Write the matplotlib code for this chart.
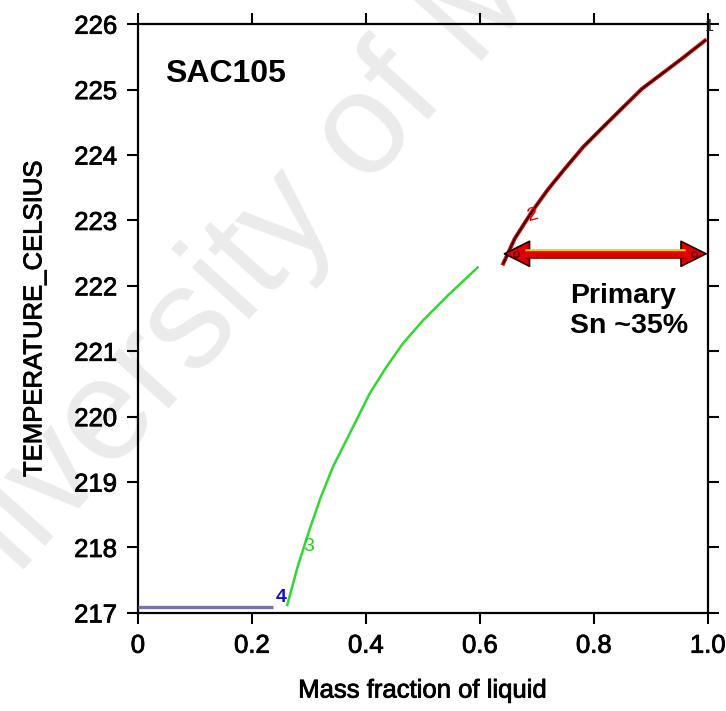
import numpy as np
import matplotlib
matplotlib.use("Agg")
import matplotlib.pyplot as plt
import matplotlib.patheffects as pe

plt.rcParams["font.family"] = ["Liberation Sans", "DejaVu Sans"]

# solidification path segments (mass fraction of liquid vs temperature)
eut_frac = [0.0, 0.237]
eut_temp = [217.09, 217.09]

sec_frac = [0.262, 0.280, 0.299, 0.320, 0.342, 0.372, 0.407, 0.436, 0.465, 0.500, 0.547, 0.596]
sec_temp = [217.12, 217.70, 218.22, 218.75, 219.23, 219.75, 220.36, 220.76, 221.12, 221.47, 221.88, 222.28]

pri_frac = [0.641, 0.661, 0.691, 0.720, 0.749, 0.781, 0.813, 0.849, 0.884, 0.919, 0.954, 0.995]
pri_temp = [222.34, 222.72, 223.13, 223.48, 223.79, 224.12, 224.40, 224.71, 225.01, 225.24, 225.47, 225.75]

# primary Sn range arrow
arrow_temp = 222.49
arrow_from = 0.64
arrow_to = 1.0

x_ticks = [0.0, 0.2, 0.4, 0.6, 0.8, 1.0]
x_ticklabels = ["0", "0.2", "0.4", "0.6", "0.8", "1.0"]
y_ticks = [217, 218, 219, 220, 221, 222, 223, 224, 225, 226]

heavy = [pe.withStroke(linewidth=0.6, foreground="black")]

fig = plt.figure(figsize=(7.26, 7.11), dpi=100)
ax = fig.add_axes([0.190, 0.138, 0.785, 0.828])
ax.patch.set_alpha(0)

# faint repository watermark behind the plot
fig.text(0.445, 0.745, "University of Malaya", fontsize=104, color="#ebebeb",
         rotation=48, rotation_mode="anchor", ha="center", va="center", zorder=-1)

ax.plot(eut_frac, eut_temp, color="#7474a8", lw=2.4, solid_capstyle="butt", zorder=3)
ax.plot(sec_frac, sec_temp, color="#33d633", lw=1.8, zorder=3)
ax.plot(pri_frac, pri_temp, color="#e00000", lw=2.8, zorder=3)
ax.plot(pri_frac, pri_temp, color="#1a0000", lw=1.2, zorder=4)

# arrow heads underneath, thick shaft on top between them
head_len = 25 / 570  # head length in axis units (x spans 0..1)
ax.annotate("", xy=(arrow_to, arrow_temp), xytext=(arrow_from, arrow_temp),
            arrowprops=dict(arrowstyle="<|-|>,head_length=0.9,head_width=0.45",
                            fc="#e00000", ec="#200000", lw=1.2, shrinkA=0, shrinkB=0,
                            mutation_scale=20),
            zorder=5, annotation_clip=False)
ax.plot([arrow_from + head_len * 0.9, arrow_to - head_len * 0.9], [arrow_temp, arrow_temp],
        color="#e00000", lw=4.8, solid_capstyle="butt", zorder=6,
        path_effects=[pe.Stroke(linewidth=4.8, foreground="#f2c800", offset=(0, 1.2)),
                      pe.Stroke(linewidth=4.8, foreground="#700000", offset=(0, -1.2)),
                      pe.Normal()])
ax.plot([arrow_from + head_len * 0.55, arrow_to - head_len * 0.55], [arrow_temp, arrow_temp],
        ls="none", marker="o", ms=4, mfc="none", mec="#500000", mew=1.0, zorder=7)

# segment numbers
ax.text(1.003, 225.97, "1", fontsize=12, color="#222222", ha="center", va="center", zorder=6)
ax.text(0.693, 223.08, "2", fontsize=14, color="#d00000", ha="center", va="center",
        rotation=15, zorder=6)
ax.text(0.300, 218.02, "3", fontsize=14, color="#22cc22", ha="center", va="center", zorder=6)
ax.text(0.252, 217.24, "4", fontsize=14, color="#1010cc", fontweight="bold",
        ha="center", va="center", zorder=6)

ax.text(0.048, 225.24, "SAC105", fontsize=23, fontweight="bold", ha="left", va="center")
ax.text(0.758, 221.62, "Primary\nSn ~35%", fontsize=20.5, fontweight="bold",
        ha="left", va="center", linespacing=1.2)

ax.set_xlim(0, 1.0)
ax.set_ylim(217, 226)
ax.set_xticks(x_ticks)
ax.set_xticklabels(x_ticklabels)
ax.set_yticks(y_ticks)
ax.tick_params(direction="out", length=8, width=1.5, labelsize=18.5, pad=7,
               top=True, right=True, labeltop=False, labelright=False)
for sp in ax.spines.values():
    sp.set_linewidth(1.6)
for lbl in ax.get_xticklabels() + ax.get_yticklabels():
    lbl.set_path_effects(heavy)

ax.set_xlabel("Mass fraction of liquid", fontsize=18.5, labelpad=15, path_effects=heavy)
ax.set_ylabel("TEMPERATURE_CELSIUS", fontsize=18.5, labelpad=20, path_effects=heavy)

fig.savefig("out.png", dpi=100)
